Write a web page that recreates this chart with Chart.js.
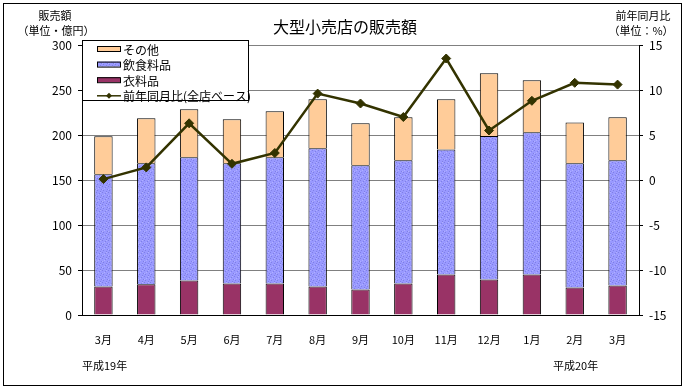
<!DOCTYPE html>
<html>
<head>
<meta charset="utf-8">
<script src="https://cdn.jsdelivr.net/npm/chart.js@4/dist/chart.umd.min.js"></script>
<style>
  html, body { margin: 0; padding: 0; background: #fff; }
</style>
</head>
<body>
<canvas id="salesChart" width="685" height="390"></canvas>
<script>
// 月 (平成19年3月 〜 平成20年3月)
const months = ['3月', '4月', '5月', '6月', '7月', '8月', '9月', '10月', '11月', '12月', '1月', '2月', '3月'];

// 販売額 (億円)
const clothing = [31.7, 34.3, 38.3, 35.0, 35.0, 31.7, 28.4, 35.0, 45.0, 39.4, 45.0, 30.6, 32.8];
const food     = [124.8, 134.4, 137.0, 133.7, 140.3, 153.6, 138.1, 137.0, 139.0, 159.6, 158.0, 138.1, 139.2];
const others   = [42.2, 49.8, 53.2, 48.7, 51.0, 54.3, 46.5, 47.6, 55.6, 69.5, 57.7, 45.3, 47.6];

// 前年同月比 (%)
const yoy = [0.1, 1.4, 6.3, 1.8, 3.0, 9.6, 8.5, 7.0, 13.5, 5.5, 8.8, 10.8, 10.6];

const jpFont = "'Noto Sans CJK JP', 'DejaVu Sans', sans-serif";

// speckled fill for the food bars
function speckle() {
    const c = document.createElement('canvas');
    c.width = 6; c.height = 6;
    const g = c.getContext('2d');
    g.fillStyle = '#9999ff';
    g.fillRect(0, 0, 6, 6);
    g.fillStyle = '#7f7fe6';
    [[0, 0], [3, 1], [5, 3], [1, 4], [4, 5]].forEach(p => g.fillRect(p[0], p[1], 1, 1));
    g.fillStyle = '#b0b0ff';
    [[2, 2], [0, 3], [4, 0]].forEach(p => g.fillRect(p[0], p[1], 1, 1));
    return g.createPattern(c, 'repeat');
}

const canvas = document.getElementById('salesChart');
const ctx = canvas.getContext('2d');

const decorations = {
    id: 'decorations',
    afterDraw(chart) {
        const c = chart.ctx;
        const area = chart.chartArea;
        c.save();

        // outer frame
        c.strokeStyle = '#000';
        c.lineWidth = 1;
        c.strokeRect(3.5, 3.5, 678, 382);

        c.fillStyle = '#000';
        c.textBaseline = 'middle';
        c.textAlign = 'center';
        c.font = '16px ' + jpFont;
        c.fillText('大型小売店の販売額', 345, 27);

        c.font = '11px ' + jpFont;
        c.fillText('販売額', 55, 16);
        c.fillText('（単位・億円）', 56, 31);
        c.fillText('前年同月比', 643, 16);
        c.fillText('（単位：%）', 641, 31);

        c.textAlign = 'left';
        c.fillText('平成19年', 82, 366);
        c.fillText('平成20年', 553, 366);

        // legend box
        const lx = area.left, ly = 40, lw = 166, lh = 60;
        c.fillStyle = '#fff';
        c.fillRect(lx, ly, lw, lh);
        c.strokeStyle = '#000';
        c.strokeRect(lx + 0.5, ly + 0.5, lw, lh);

        const ds = chart.data.datasets;
        const rows = [ds[2], ds[1], ds[0], ds[3]];
        rows.forEach((d, i) => {
            const y = 49 + i * 15.6;
            if (d.type === 'line') {
                c.strokeStyle = d.borderColor;
                c.lineWidth = 1.5;
                c.beginPath();
                c.moveTo(97, y);
                c.lineTo(121, y);
                c.stroke();
                c.fillStyle = d.borderColor;
                c.beginPath();
                c.moveTo(109, y - 3);
                c.lineTo(112, y);
                c.lineTo(109, y + 3);
                c.lineTo(106, y);
                c.closePath();
                c.fill();
            } else {
                c.fillStyle = d.backgroundColor;
                c.fillRect(97, y - 3, 23, 5);
                c.strokeStyle = '#000';
                c.lineWidth = 1;
                c.strokeRect(97.5, y - 2.5, 23, 5);
            }
            c.fillStyle = '#000';
            c.font = '12px ' + jpFont;
            c.textAlign = 'left';
            c.fillText(d.label, 123, y + 1);
        });

        c.restore();
    }
};

const chart = new Chart(ctx, {
    type: 'bar',
    data: {
        labels: months,
        datasets: [
            {
                label: '衣料品',
                data: clothing,
                backgroundColor: '#993366',
                borderColor: '#000',
                borderWidth: 1,
                yAxisID: 'y',
                order: 1
            },
            {
                label: '飲食料品',
                data: food,
                backgroundColor: speckle(),
                borderColor: '#000',
                borderWidth: 1,
                yAxisID: 'y',
                order: 1
            },
            {
                label: 'その他',
                data: others,
                backgroundColor: '#ffcc99',
                borderColor: '#000',
                borderWidth: 1,
                yAxisID: 'y',
                order: 1
            },
            {
                type: 'line',
                label: '前年同月比(全店ベース)',
                data: yoy,
                borderColor: '#333300',
                backgroundColor: '#333300',
                borderWidth: 2.5,
                pointStyle: 'rectRot',
                pointRadius: 4.5,
                pointBorderWidth: 1,
                tension: 0,
                yAxisID: 'y2',
                order: 0
            }
        ]
    },
    options: {
        responsive: false,
        animation: false,
        devicePixelRatio: 1,
        layout: { padding: { top: 45, left: 0, right: 0, bottom: 0 } },
        datasets: {
            bar: { barPercentage: 0.43, categoryPercentage: 1.0 }
        },
        plugins: {
            legend: { display: false },
            title: { display: false },
            tooltip: { enabled: false }
        },
        scales: {
            x: {
                stacked: true,
                grid: { display: false },
                border: { display: true, color: '#000', width: 1 },
                ticks: { color: '#000', font: { family: jpFont, size: 11 }, padding: 10 },
                afterFit(scale) { scale.height = 75; }
            },
            y: {
                position: 'left',
                stacked: true,
                min: 0,
                max: 300,
                ticks: { stepSize: 50, color: '#000', font: { family: jpFont, size: 12 }, padding: 6 },
                grid: { color: '#808080', tickColor: '#000', tickLength: 4 },
                border: { display: true, color: '#000', width: 1 },
                afterFit(scale) { scale.width = 82; }
            },
            y2: {
                position: 'right',
                min: -15,
                max: 15,
                ticks: { stepSize: 5, color: '#000', font: { family: jpFont, size: 12 }, padding: 6 },
                grid: { drawOnChartArea: false, tickColor: '#000', tickLength: 4 },
                border: { display: true, color: '#000', width: 1 },
                afterFit(scale) { scale.width = 46; }
            }
        }
    },
    plugins: [decorations]
});
</script>
</body>
</html>
